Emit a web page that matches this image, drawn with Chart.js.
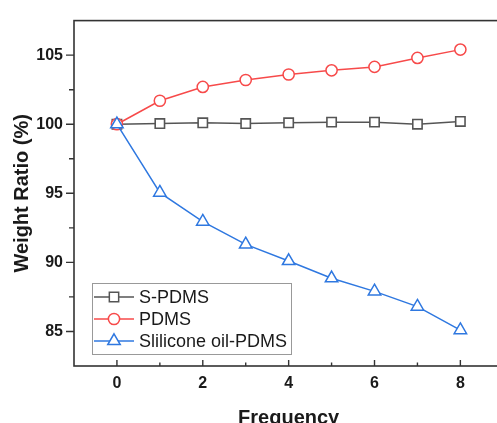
<!DOCTYPE html>
<html>
<head>
<meta charset="utf-8">
<script src="https://cdn.jsdelivr.net/npm/chart.js@4"></script>
<style>
  html, body { margin: 0; padding: 0; background: #fff; overflow: hidden; }
  #wrap { width: 512px; height: 430px; }
</style>
</head>
<body>
<div id="wrap"><canvas id="chart" width="512" height="430"></canvas></div>
<script>
// values
const frequency = [0, 1, 2, 3, 4, 5, 6, 7, 8];
const sPdms = [100, 100.05, 100.1, 100.05, 100.1, 100.15, 100.15, 100.0, 100.2];
const pdms = [100, 101.7, 102.7, 103.2, 103.6, 103.9, 104.15, 104.8, 105.4];
const siliconeOil = [100, 95.05, 92.95, 91.3, 90.1, 88.85, 87.9, 86.8, 85.1];
const xTicks = [0, 2, 4, 6, 8];
const xMinorTicks = [1, 3, 5, 7];
const yTicks = [85, 90, 95, 100, 105];
const yMinorTicks = [87.5, 92.5, 97.5, 102.5];

const gray = '#555555';
const red = '#f74a4a';
const blue = '#2f78e0';

Chart.defaults.font.family = '"Liberation Sans", Arial, sans-serif';
Chart.defaults.color = '#1a1a1a';

const toPoints = (ys) => frequency.map((x, i) => ({ x: x, y: ys[i] }));

function drawMarker(ctx, style, r, x, y) {
    if (style === 'rect') {
        const s = r * Math.SQRT1_2;
        ctx.rect(x - s, y - s, 2 * s, 2 * s);
    } else if (style === 'circle') {
        ctx.arc(x, y, r, 0, Math.PI * 2);
    } else {
        ctx.moveTo(x, y - r);
        ctx.lineTo(x + r * Math.sin(Math.PI * 2 / 3), y + r * 0.5);
        ctx.lineTo(x - r * Math.sin(Math.PI * 2 / 3), y + r * 0.5);
        ctx.closePath();
    }
}

// frame, inward x ticks, outward y ticks and the boxed legend
const framePlugin = {
    id: 'frame',
    afterDraw(chart) {
        const ctx = chart.ctx;
        const area = chart.chartArea;
        const xs = chart.scales.x;
        const ys = chart.scales.y;
        ctx.save();
        ctx.strokeStyle = '#333';
        ctx.lineWidth = 1.6;
        ctx.strokeRect(area.left, area.top, area.right - area.left, area.bottom - area.top);

        ctx.lineWidth = 1.4;
        ctx.beginPath();
        xTicks.forEach(v => {
            const px = xs.getPixelForValue(v);
            ctx.moveTo(px, area.bottom);
            ctx.lineTo(px, area.bottom - 6);
        });
        xMinorTicks.forEach(v => {
            const px = xs.getPixelForValue(v);
            ctx.moveTo(px, area.bottom);
            ctx.lineTo(px, area.bottom - 3.5);
        });
        yTicks.forEach(v => {
            const py = ys.getPixelForValue(v);
            ctx.moveTo(area.left, py);
            ctx.lineTo(area.left - 8, py);
        });
        yMinorTicks.forEach(v => {
            const py = ys.getPixelForValue(v);
            ctx.moveTo(area.left, py);
            ctx.lineTo(area.left - 5, py);
        });
        ctx.stroke();

        // legend box
        const bx = 92, by = 283, bw = 199, bh = 71;
        ctx.fillStyle = '#fff';
        ctx.fillRect(bx, by, bw, bh);
        ctx.strokeStyle = '#999';
        ctx.lineWidth = 1;
        ctx.strokeRect(bx + 0.5, by + 0.5, bw, bh);

        const rows = [297, 319, 341];
        ctx.font = '18px "Liberation Sans", Arial, sans-serif';
        ctx.textBaseline = 'middle';
        chart.data.datasets.forEach((ds, r) => {
            const y = rows[r];
            ctx.strokeStyle = ds.borderColor;
            ctx.lineWidth = 1.5;
            ctx.beginPath();
            ctx.moveTo(94, y);
            ctx.lineTo(134, y);
            ctx.stroke();
            ctx.fillStyle = '#fff';
            ctx.beginPath();
            drawMarker(ctx, ds.pointStyle, ds.pointRadius, 114, y);
            ctx.fill();
            ctx.stroke();
            ctx.fillStyle = '#1a1a1a';
            ctx.fillText(ds.label, 139, y + 1);
        });
        ctx.restore();
    }
};

new Chart(document.getElementById('chart'), {
    type: 'line',
    data: {
        datasets: [{
            label: 'S-PDMS',
            data: toPoints(sPdms),
            borderColor: gray,
            backgroundColor: '#fff',
            pointStyle: 'rect',
            pointRadius: 6.6,
            pointBorderWidth: 1.6,
            pointBackgroundColor: '#fff',
            borderWidth: 1.5,
            order: 3
        }, {
            label: 'PDMS',
            data: toPoints(pdms),
            borderColor: red,
            backgroundColor: '#fff',
            pointStyle: 'circle',
            pointRadius: 5.6,
            pointBorderWidth: 1.5,
            pointBackgroundColor: '#fff',
            borderWidth: 1.5,
            order: 2
        }, {
            label: 'Slilicone oil-PDMS',
            data: toPoints(siliconeOil),
            borderColor: blue,
            backgroundColor: '#fff',
            pointStyle: 'triangle',
            pointRadius: 7.2,
            pointBorderWidth: 1.5,
            pointBackgroundColor: '#fff',
            borderWidth: 1.5,
            order: 1
        }]
    },
    options: {
        responsive: false,
        animation: false,
        layout: { padding: { top: 18, right: 7, left: 0, bottom: 0 } },
        plugins: {
            legend: { display: false },
            tooltip: { enabled: false }
        },
        scales: {
            x: {
                type: 'linear',
                min: -1,
                max: 9,
                afterBuildTicks: (scale) => { scale.ticks = xTicks.map(v => ({ value: v })); },
                afterFit: (scale) => { scale.height = 64; },
                grid: { display: false, drawTicks: false },
                border: { display: false },
                ticks: {
                    padding: 8,
                    font: { size: 16, weight: 'bold' }
                },
                title: {
                    display: true,
                    text: 'Frequency',
                    font: { size: 20, weight: 'bold' },
                    padding: { top: 0, bottom: 0 }
                }
            },
            y: {
                min: 82.5,
                max: 107.5,
                afterBuildTicks: (scale) => { scale.ticks = yTicks.map(v => ({ value: v })); },
                afterFit: (scale) => { scale.width = 74; },
                grid: { display: false, drawTicks: false },
                border: { display: false },
                ticks: {
                    padding: 11,
                    font: { size: 16, weight: 'bold' }
                },
                title: {
                    display: true,
                    text: 'Weight Ratio (%)',
                    font: { size: 20, weight: 'bold' },
                    padding: { top: 10, bottom: 0 }
                }
            }
        }
    },
    plugins: [framePlugin]
});
</script>
</body>
</html>
